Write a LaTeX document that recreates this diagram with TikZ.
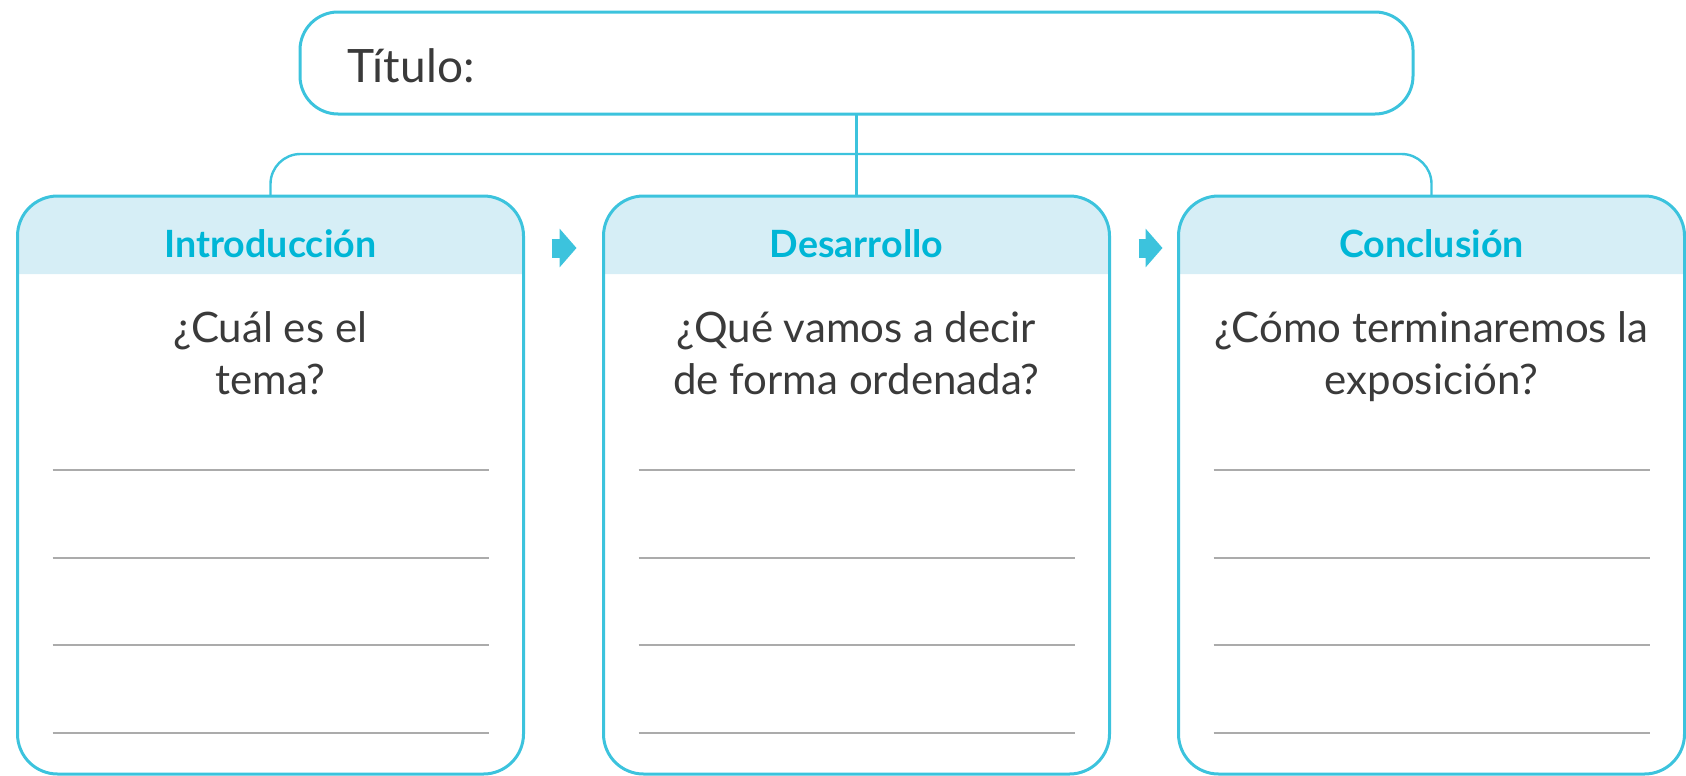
\documentclass[tikz,border=0pt]{standalone}
\usepackage{fontspec}
\setmainfont{Lato}
\usetikzlibrary{positioning,backgrounds,arrows.meta}

\definecolor{cian}{HTML}{3CC3DD}
\definecolor{cianosc}{HTML}{00B6D6}
\definecolor{celeste}{HTML}{D6EEF6}
\definecolor{texto}{HTML}{3A3A3A}
\definecolor{renglon}{HTML}{ABABAB}

\tikzset{
  caja/.style={draw=cian, line width=1.5pt, rounded corners=20pt, outer sep=0pt,
    minimum width=253pt, minimum height=289pt, inner sep=0pt},
  titulocaja/.style={draw=cian, line width=1.5pt, rounded corners=19pt, outer sep=0pt,
    minimum width=556.5pt, minimum height=51pt, inner sep=0pt},
  cabecera/.style={anchor=base, text=cianosc, inner sep=0pt,
    font=\fontsize{18.8}{22}\selectfont\bfseries},
  pregunta/.style={anchor=base, text=texto, inner sep=0pt, align=center,
    font=\fontsize{21}{26}\selectfont},
  enlace/.style={draw=cian, line width=1.2pt},
  renglon/.style={draw=renglon, line width=1pt},
  flecha/.style={draw=cian, line width=9.5pt, -{Triangle[length=8.5pt,width=19pt]}}
}

\begin{document}
\begin{tikzpicture}[x=0.5pt,y=-0.5pt]
\useasboundingbox (0,0) rectangle (1686,776);

% tres cajas
\node[caja] (intro) at (270.5,485) {};
\node[caja, right=40pt of intro] (desa) {};
\node[caja, right=34.5pt of desa] (concl) {};

% titulo
\node[titulocaja, above=41pt of desa] (title) {};
\node[anchor=base west, text=texto, inner sep=0pt, font=\fontsize{23}{26}\selectfont]
  (titulo) at ([xshift=23.5pt,yshift=-9.5pt]title.west) {Título:};

% cabeceras
\begin{scope}[on background layer]
\foreach \b in {intro,desa,concl}
  \fill[celeste] ([yshift=-39pt]\b.north west) [rounded corners=20pt] -- (\b.north west)
    -- (\b.north east) [sharp corners] -- ([yshift=-39pt]\b.north east) -- cycle;
\end{scope}

\node[cabecera] (cintro) at ([yshift=-30.5pt]intro.north) {Introducción};
\node[cabecera] (cdesa) at ([yshift=-30.5pt]desa.north) {Desarrollo};
\node[cabecera] (cconcl) at ([yshift=-30.5pt]concl.north) {Conclusión};

\node[pregunta] (pintro) at ([yshift=-99pt]intro.north) {¿Cuál es el\\tema?};
\node[pregunta] (pdesa) at ([yshift=-99pt]desa.north) {¿Qué vamos a decir\\de forma ordenada?};
\node[pregunta] (pconcl) at ([yshift=-99pt]concl.north) {¿Cómo terminaremos la\\exposición?};

% renglones
\foreach \b in {intro,desa,concl}
  \foreach \d in {137,181,224.5,268.5}
    \draw[renglon] ([xshift=17.5pt,yshift=-\d pt]\b.north west)
      -- ([xshift=-17.5pt,yshift=-\d pt]\b.north east);

% conectores
\coordinate (brk) at (858,154);
\draw[enlace] (title.south) -- (desa.north);
\draw[enlace, rounded corners=15pt] (intro.north) |- (brk) -| (concl.north);

\draw[flecha] ([xshift=14pt,yshift=-26pt]intro.north east) -- ([xshift=26.5pt,yshift=-26pt]intro.north east);
\draw[flecha] ([xshift=14.5pt,yshift=-26pt]desa.north east) -- ([xshift=26.5pt,yshift=-26pt]desa.north east);
\end{tikzpicture}
\end{document}
